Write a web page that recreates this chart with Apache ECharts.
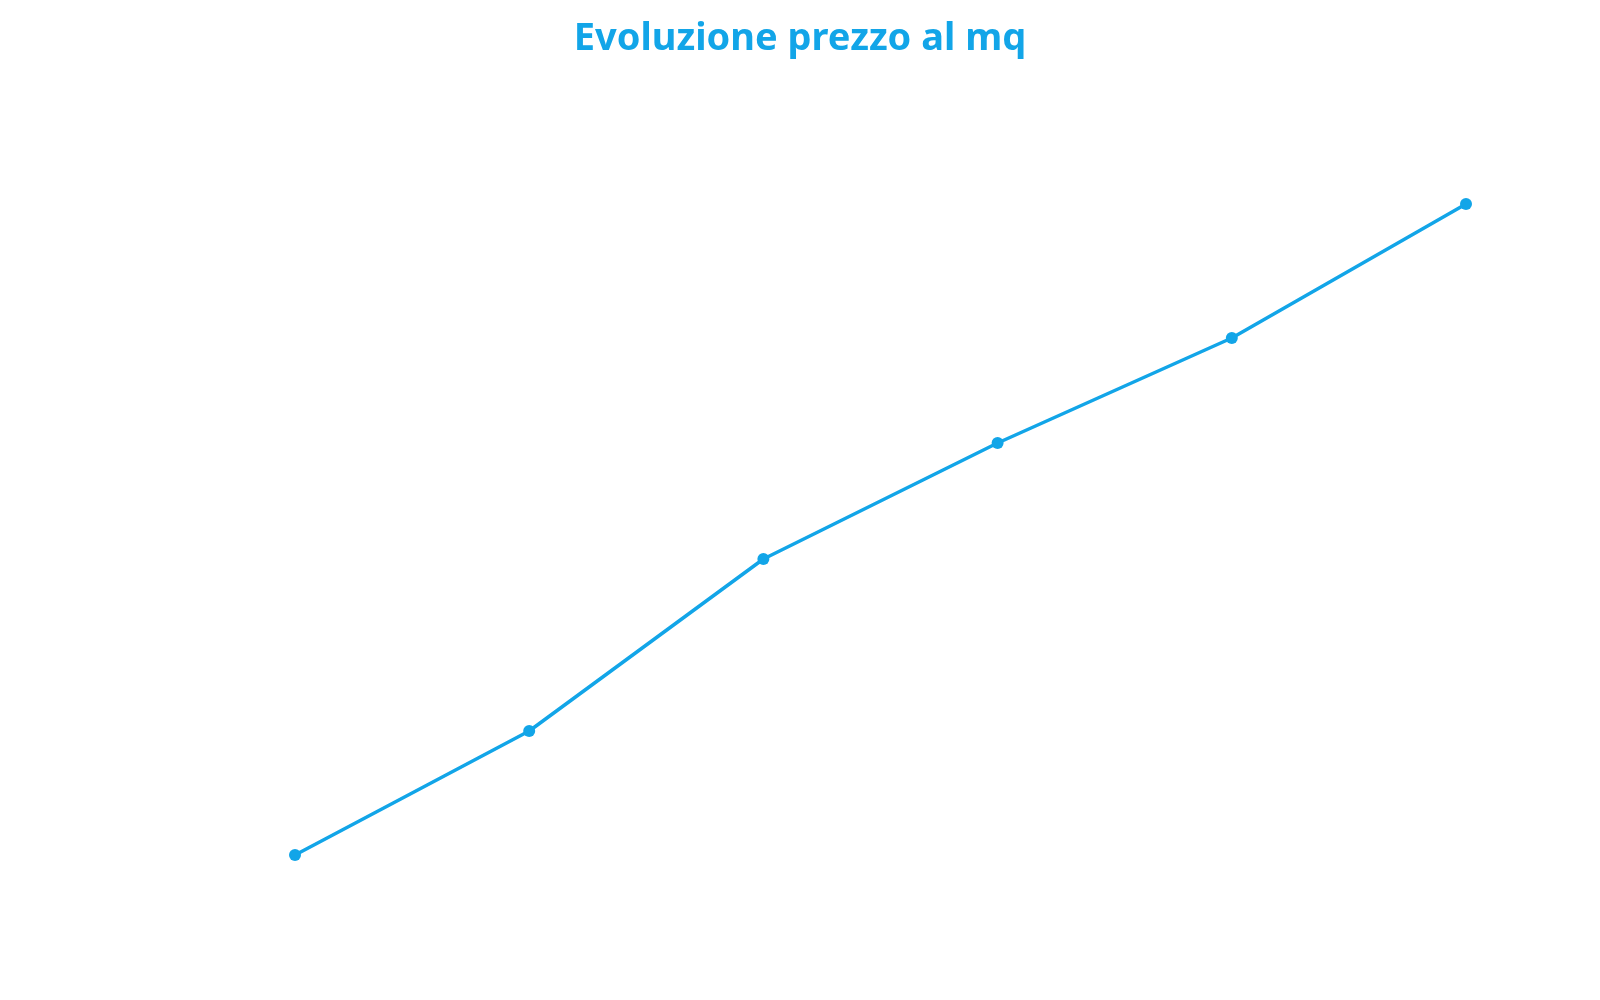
<!DOCTYPE html>
<html>
<head>
<meta charset="utf-8">
<script src="https://cdn.jsdelivr.net/npm/echarts@6/dist/echarts.min.js"></script>
<style>
  html, body { margin: 0; padding: 0; background: #ffffff; }
  #graphContainer { width: 1600px; height: 1000px; }
</style>
</head>
<body>
<div id="graphContainer"></div>
<script>
// anni (etichette nascoste nel grafico originale)
var categories = ['2019', '2020', '2021', '2022', '2023', '2024'];
// prezzo al mq, letto a stima dal disegno
var prezzoMq = [1845, 1969, 2141, 2257, 2362, 2496];
var mainColor = '#12a5e8';

var dom = document.getElementById('graphContainer');
var myChart = echarts.init(dom, null, { renderer: 'canvas' });

var option = {
	animation: false,
	title: {
		text: 'Evoluzione prezzo al mq',
		left: 'center',
		top: 15,
		textStyle: {
			color: mainColor,
			fontFamily: 'Noto Sans',
			fontWeight: 'bold',
			fontSize: 38
		}
	},
	grid: {
		left: 295,
		right: 134,
		top: 100,
		bottom: 100
	},
	xAxis: {
		type: 'category',
		data: categories,
		boundaryGap: false,
		show: false
	},
	yAxis: {
		type: 'value',
		min: 1800,
		max: 2600,
		show: false
	},
	series: [{
		name: 'Prezzo al mq',
		type: 'line',
		data: prezzoMq,
		symbol: 'circle',
		symbolSize: 12,
		itemStyle: { color: mainColor },
		lineStyle: { color: mainColor, width: 3.5 }
	}]
};
myChart.setOption(option);
</script>
</body>
</html>
